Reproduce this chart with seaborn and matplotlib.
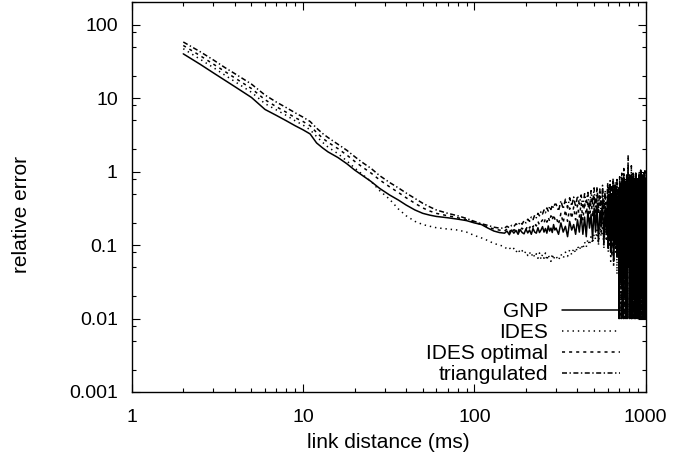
import matplotlib
matplotlib.use("Agg")
import matplotlib.pyplot as plt
import matplotlib.ticker as mticker
import numpy as np
import pandas as pd
import seaborn as sns

# ---------------- data ----------------
x_smooth = [2, 2.5, 3, 3.5, 4, 5, 6, 7, 8, 9, 10, 11, 12, 13, 14, 16, 18, 20, 22, 25,
            28, 32, 36, 40, 45, 50, 55, 60, 70, 80, 90, 100, 110, 120, 130, 140]
x_mid = [150, 155, 160, 165, 170, 175, 180, 185, 190, 195, 200, 205, 210, 215, 220,
         225, 230, 235, 240, 245, 250, 255, 260, 265, 270, 275, 280, 285, 290, 295]
x_tail = [300, 310, 320, 330, 340, 350, 360, 370, 380, 390,
          400, 410, 420, 430, 440, 450, 460, 470, 480, 490,
          500, 510, 520, 530, 540, 550, 560, 570, 580, 590,
          600, 605, 610, 615, 620, 625, 630, 635, 640, 645,
          650, 655, 660, 665, 670, 675, 680, 685, 690, 695,
          700, 705, 710, 715, 720, 725, 730, 735, 740, 745,
          750, 755, 760, 765, 770, 775, 780, 785, 790, 795,
          800, 805, 810, 815, 820, 825, 830, 835, 840, 845,
          850, 855, 860, 865, 870, 875, 880, 885, 890, 895,
          900, 905, 910, 915, 920, 925, 930, 935, 940, 945,
          950, 955, 960, 965, 970, 975, 980, 985, 990, 995, 1000]

gnp_smooth = [40, 29, 22, 17.5, 14.3, 10.2, 7.0, 5.8, 4.9, 4.2, 3.7, 3.25, 2.45, 2.1, 1.85,
              1.55, 1.28, 1.05, 0.9, 0.73, 0.59, 0.48, 0.41, 0.35, 0.3, 0.27, 0.255, 0.245,
              0.235, 0.225, 0.215, 0.2, 0.19, 0.17, 0.155, 0.148]
gnp_mid = [0.145, 0.155, 0.138, 0.16, 0.145, 0.158, 0.14, 0.162, 0.148, 0.142, 0.165, 0.146,
           0.16, 0.14, 0.168, 0.15, 0.145, 0.172, 0.148, 0.16, 0.178, 0.15, 0.168, 0.145,
           0.182, 0.155, 0.17, 0.148, 0.19, 0.16]
gnp_tail = [0.17, 0.14, 0.2, 0.15, 0.18, 0.13, 0.21, 0.16, 0.19, 0.14,
            0.22, 0.15, 0.26, 0.14, 0.24, 0.13, 0.29, 0.17, 0.26, 0.12,
            0.32, 0.15, 0.35, 0.11, 0.28, 0.18, 0.4, 0.1, 0.33, 0.14,
            0.45, 0.09, 0.38, 0.16, 0.5, 0.08, 0.42, 0.2, 0.12, 0.55,
            0.06, 0.35, 0.6, 0.1, 0.3, 0.5, 0.07, 0.45, 0.15, 0.6,
            0.01, 0.45, 0.1, 0.7, 0.03, 0.5, 0.15, 0.8, 0.01, 0.55,
            0.25, 0.05, 0.65, 0.01, 0.4, 0.9, 0.12, 0.01, 0.6, 0.3,
            0.05, 0.9, 0.01, 0.6, 0.12, 0.75, 0.01, 0.5, 0.2, 0.85,
            0.02, 0.45, 0.7, 0.01, 0.3, 0.95, 0.08, 0.55, 0.01, 0.8,
            0.15, 0.65, 0.01, 0.9, 0.25, 0.01, 0.7, 0.1, 1.0, 0.02,
            0.6, 0.35, 0.01, 0.85, 0.15, 0.5, 0.01, 0.95, 0.3, 0.01, 0.8]

ides_smooth = [47, 34, 26, 20.5, 16.8, 12, 8.4, 6.9, 5.8, 4.9, 4.3, 3.7, 3.0, 2.5, 2.15,
               1.75, 1.4, 1.12, 0.93, 0.73, 0.55, 0.42, 0.31, 0.25, 0.21, 0.19, 0.18, 0.172,
               0.165, 0.16, 0.15, 0.135, 0.125, 0.115, 0.105, 0.1]
ides_mid = [0.095, 0.088, 0.092, 0.085, 0.09, 0.08, 0.088, 0.078, 0.084, 0.076, 0.082, 0.072,
            0.08, 0.07, 0.078, 0.068, 0.076, 0.066, 0.078, 0.064, 0.075, 0.066, 0.078, 0.062,
            0.074, 0.065, 0.06, 0.076, 0.063, 0.072]
ides_tail = [0.07, 0.062, 0.075, 0.066, 0.08, 0.07, 0.086, 0.074, 0.09, 0.078,
             0.097, 0.085, 0.1, 0.088, 0.11, 0.094, 0.12, 0.1, 0.13, 0.105,
             0.14, 0.12, 0.16, 0.1, 0.18, 0.13, 0.2, 0.09, 0.22, 0.12,
             0.25, 0.08, 0.3, 0.1, 0.35, 0.06, 0.28, 0.15, 0.12, 0.4,
             0.05, 0.3, 0.45, 0.08, 0.22, 0.4, 0.04, 0.35, 0.1, 0.45,
             0.02, 0.5, 0.05, 0.35, 0.01, 0.6, 0.08, 0.45, 0.01, 0.7,
             0.2, 0.03, 0.5, 0.01, 0.3, 0.65, 0.06, 0.01, 0.45, 0.2,
             0.1, 0.5, 0.01, 0.8, 0.04, 0.55, 0.01, 0.65, 0.15, 0.45,
             0.01, 0.35, 0.6, 0.02, 0.2, 0.75, 0.05, 0.4, 0.01, 0.6,
             0.01, 0.75, 0.06, 0.5, 0.2, 0.01, 0.9, 0.03, 0.6, 0.01,
             0.7, 0.25, 0.01, 0.55, 0.1, 0.8, 0.01, 0.4, 0.65, 0.01, 0.7]

opt_smooth = [52, 38, 29, 23, 18.8, 13.5, 9.5, 7.6, 6.4, 5.4, 4.8, 4.2, 3.4, 2.85, 2.5,
              2.05, 1.68, 1.38, 1.17, 0.95, 0.77, 0.62, 0.52, 0.44, 0.37, 0.32, 0.29, 0.27,
              0.25, 0.235, 0.22, 0.205, 0.19, 0.175, 0.165, 0.16]
opt_mid = [0.155, 0.165, 0.148, 0.17, 0.158, 0.165, 0.152, 0.178, 0.165, 0.175, 0.162, 0.185,
           0.17, 0.19, 0.175, 0.2, 0.182, 0.21, 0.188, 0.205, 0.22, 0.198, 0.23, 0.205, 0.24,
           0.21, 0.25, 0.22, 0.26, 0.225]
opt_tail = [0.24, 0.19, 0.27, 0.2, 0.3, 0.21, 0.32, 0.23, 0.33, 0.22,
            0.35, 0.24, 0.37, 0.22, 0.38, 0.26, 0.4, 0.2, 0.42, 0.24,
            0.45, 0.18, 0.48, 0.26, 0.5, 0.15, 0.55, 0.22, 0.45, 0.12,
            0.6, 0.2, 0.52, 0.1, 0.65, 0.18, 0.5, 0.07, 0.3, 0.7,
            0.15, 0.55, 0.25, 0.6, 0.09, 0.45, 0.68, 0.12, 0.5, 0.3,
            0.01, 0.75, 0.12, 0.6, 0.01, 0.85, 0.2, 0.65, 0.02, 0.9,
            0.35, 0.01, 0.7, 0.15, 0.5, 0.01, 0.8, 0.3, 1.7, 0.06,
            0.9, 0.01, 0.7, 0.1, 0.9, 0.01, 0.8, 0.05, 0.6, 0.01,
            0.95, 0.25, 0.45, 0.01, 0.75, 0.15, 0.85, 0.01, 0.5, 0.3,
            0.08, 0.7, 0.01, 0.85, 0.15, 0.6, 0.01, 1.0, 0.05, 0.75,
            0.3, 0.01, 0.9, 0.2, 0.55, 0.01, 0.8, 0.1, 1.1, 0.01, 0.75]

tri_smooth = [58, 43, 33, 26, 21.5, 15.5, 11, 8.8, 7.4, 6.3, 5.5, 4.8, 3.9, 3.3, 2.9,
              2.35, 1.95, 1.6, 1.35, 1.1, 0.88, 0.71, 0.6, 0.51, 0.43, 0.37, 0.33, 0.3,
              0.27, 0.25, 0.23, 0.21, 0.195, 0.185, 0.175, 0.17]
tri_mid = [0.17, 0.18, 0.172, 0.185, 0.178, 0.195, 0.185, 0.205, 0.192, 0.215, 0.2, 0.225,
           0.21, 0.24, 0.222, 0.255, 0.235, 0.27, 0.25, 0.285, 0.265, 0.3, 0.275, 0.32, 0.29,
           0.335, 0.305, 0.35, 0.32, 0.36]
tri_tail = [0.36, 0.29, 0.4, 0.31, 0.42, 0.32, 0.44, 0.34, 0.45, 0.33,
            0.47, 0.36, 0.48, 0.33, 0.5, 0.38, 0.52, 0.3, 0.55, 0.35,
            0.6, 0.28, 0.62, 0.32, 0.58, 0.22, 0.65, 0.3, 0.55, 0.2,
            0.7, 0.25, 0.6, 0.15, 0.75, 0.22, 0.62, 0.1, 0.4, 0.8,
            0.2, 0.65, 0.3, 0.72, 0.12, 0.5, 0.78, 0.18, 0.6, 0.35,
            0.03, 0.85, 0.15, 0.7, 0.01, 0.95, 0.25, 0.75, 0.01, 1.1,
            0.4, 0.02, 0.8, 0.2, 0.6, 0.01, 0.9, 0.35, 1.2, 0.08,
            0.06, 0.8, 0.01, 0.9, 0.18, 1.2, 0.01, 0.7, 0.1, 1.0,
            0.01, 0.6, 0.85, 0.2, 0.01, 0.95, 0.4, 0.01, 0.75, 0.25,
            0.01, 0.8, 0.12, 0.95, 0.01, 0.7, 0.2, 1.05, 0.01, 0.85,
            0.4, 0.01, 0.9, 0.15, 0.65, 0.01, 1.0, 0.3, 0.01, 0.8, 0.9]

series_names = ["GNP", "IDES", "IDES optimal", "triangulated"]
x_tick_labels = ["1", "10", "100", "1000"]
y_tick_labels = ["0.001", "0.01", "0.1", "1", "10", "100"]

# ---------------- style ----------------
sns.set_theme(style="ticks")
plt.rcParams["font.family"] = ["Liberation Sans", "DejaVu Sans"]
plt.rcParams["lines.scale_dashes"] = False
FS = 14
FS_LAB = 15

fig = plt.figure(figsize=(6.73, 4.61), dpi=100)
ax = fig.add_axes([0.1957, 0.1497, 0.7637, 0.8449])

x_all = x_smooth + x_mid + x_tail
series_values = {
    "GNP": gnp_smooth + gnp_mid + gnp_tail,
    "IDES": ides_smooth + ides_mid + ides_tail,
    "IDES optimal": opt_smooth + opt_mid + opt_tail,
    "triangulated": tri_smooth + tri_mid + tri_tail,
}
styles = {
    "GNP": "-",
    "IDES": (0, (1.0, 2.8)),
    "IDES optimal": (0, (2.2, 2.9)),
    "triangulated": (0, (3.6, 1.8, 1.0, 1.8)),
}

for name in series_names:
    df = pd.DataFrame({"x": x_all, "y": series_values[name]})
    sns.lineplot(data=df, x="x", y="y", ax=ax, color="black", linewidth=1.1,
                 linestyle=styles[name], label=name, estimator=None, sort=False)

ax.set_xscale("log")
ax.set_yscale("log")
ax.set_xlim(1, 1000)
ax.set_ylim(0.001, 200)

ax.xaxis.set_major_locator(mticker.FixedLocator([1, 10, 100, 1000]))
ax.xaxis.set_major_formatter(mticker.FixedFormatter(x_tick_labels))
ax.xaxis.set_minor_locator(mticker.LogLocator(base=10, subs=[2, 3, 4, 5, 6, 7, 8, 9]))
ax.xaxis.set_minor_formatter(mticker.NullFormatter())
ax.yaxis.set_major_locator(mticker.FixedLocator([0.001, 0.01, 0.1, 1, 10, 100]))
ax.yaxis.set_major_formatter(mticker.FixedFormatter(y_tick_labels))
ax.yaxis.set_minor_locator(mticker.LogLocator(base=10, subs=[2, 5, 8]))
ax.yaxis.set_minor_formatter(mticker.NullFormatter())

ax.tick_params(which="both", direction="in", top=True, right=True, color="black")
ax.tick_params(axis="x", which="major", pad=12)
ax.tick_params(axis="y", which="major", pad=10)
ax.tick_params(which="major", length=6, width=0.8, labelsize=FS, labelcolor="black")
ax.tick_params(which="minor", length=3, width=0.8)
for sp in ax.spines.values():
    sp.set_color("black")
    sp.set_linewidth(1.0)
ax.grid(False)

ax.set_xlabel("link distance (ms)", fontsize=FS_LAB, color="black")
ax.set_ylabel("relative error", fontsize=FS_LAB, color="black")
ax.xaxis.set_label_coords(0.5, -0.105)
ax.yaxis.set_label_coords(-0.195, 0.455)

leg = ax.legend(loc="lower right", bbox_to_anchor=(0.950, 0.0206), frameon=False,
                markerfirst=False, fontsize=FS_LAB, handlelength=2.79, handletextpad=0.67,
                labelspacing=0.09, borderpad=0, borderaxespad=0)
for t in leg.get_texts():
    t.set_color("black")
for h in leg.legend_handles:
    h.set_linewidth(1.1)

fig.savefig("out.png", dpi=100)
